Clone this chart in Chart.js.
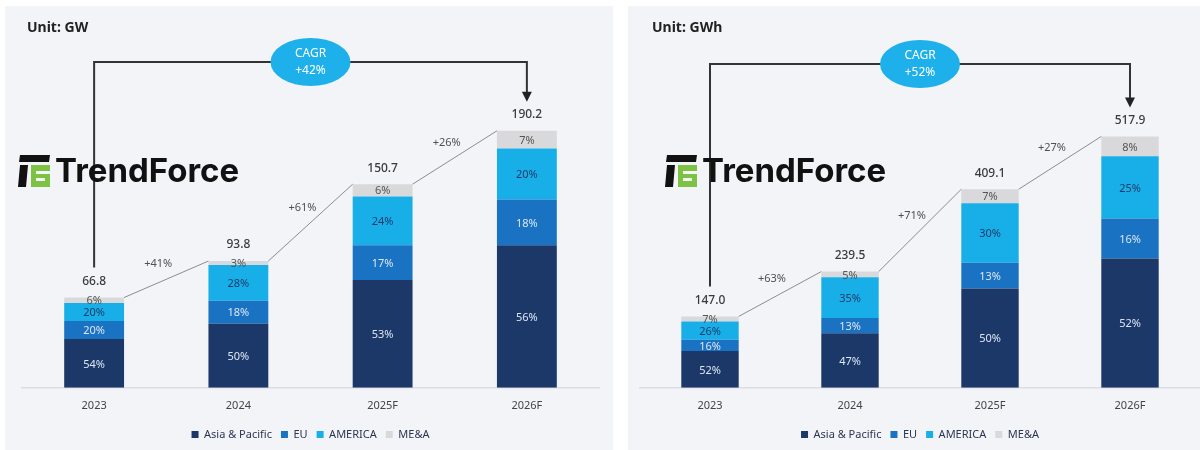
<!DOCTYPE html>
<html>
<head>
<meta charset="utf-8">
<script src="https://cdn.jsdelivr.net/npm/chart.js@4.4.0/dist/chart.umd.min.js"></script>
<style>
  body { margin: 0; background: #fff; width: 1200px; height: 450px; position: relative; overflow: hidden; }
  .panel { position: absolute; top: 6px; height: 444px; background: #f3f4f8; overflow: hidden; }
  #p1 { left: 5px; width: 608px; }
  #p2 { left: 628px; width: 572px; }
  canvas { display: block; }
</style>
</head>
<body>
<div class="panel" id="p1"><canvas id="gw" width="608" height="444"></canvas></div>
<div class="panel" id="p2"><canvas id="gwh" width="572" height="444"></canvas></div>
<script>
// data
const years = ['2023', '2024', '2025F', '2026F'];
const regions = ['Asia & Pacific', 'EU', 'AMERICA', 'ME&A'];

const gwTotal = [66.8, 93.8, 150.7, 190.2];
const gwAsia = [54, 50, 53, 56];
const gwEU = [20, 18, 17, 18];
const gwAmerica = [20, 28, 24, 20];
const gwMEA = [6, 3, 6, 7];
const gwGrowth = ['+41%', '+61%', '+26%'];
const gwCagr = '+42%';

const gwhTotal = [147.0, 239.5, 409.1, 517.9];
const gwhAsia = [52, 47, 50, 52];
const gwhEU = [16, 13, 13, 16];
const gwhAmerica = [26, 35, 30, 25];
const gwhMEA = [7, 5, 7, 8];
const gwhGrowth = ['+63%', '+71%', '+27%'];
const gwhCagr = '+52%';

const colors = ['#1b3868', '#1a73c2', '#18afe8', '#d9d9db'];
const labelColors = ['#dde6f3', '#dde6f3', '#1d3b6b', '#555555'];
const FONT = '"Noto Sans", "DejaVu Sans", sans-serif';

function drawLogo(ctx, x, y) {
  // small icon
  ctx.save();
  ctx.fillStyle = '#111';
  ctx.beginPath();
  ctx.moveTo(x + 2, y); ctx.lineTo(x + 32, y); ctx.lineTo(x + 31, y + 7); ctx.lineTo(x + 1, y + 7);
  ctx.fill();
  ctx.beginPath();
  ctx.moveTo(x + 2, y + 10); ctx.lineTo(x + 10, y + 10); ctx.lineTo(x + 8, y + 32); ctx.lineTo(x, y + 32);
  ctx.fill();
  ctx.fillStyle = '#7dc242';
  ctx.fillRect(x + 13, y + 10, 19, 22);
  ctx.fillStyle = '#f3f4f8';
  ctx.fillRect(x + 18, y + 16, 14, 3);
  ctx.fillRect(x + 18, y + 23, 9, 3);
  ctx.fillStyle = '#111';
  ctx.font = 'bold 33px Inter, "Open Sans", sans-serif';
  ctx.textBaseline = 'middle';
  ctx.textAlign = 'left';
  ctx.fillText('TrendForce', x + 37, y + 17, 186);
  ctx.restore();
}

const annotate = {
  id: 'annotate',
  afterDatasetsDraw(chart, args, o) {
    const ctx = chart.ctx;
    const ys = chart.scales.y;
    const metas = chart.data.datasets.map((d, i) => chart.getDatasetMeta(i));
    ctx.save();

    // share labels inside the segments
    ctx.font = '11px ' + FONT;
    ctx.textAlign = 'center';
    ctx.textBaseline = 'middle';
    metas.forEach((m, di) => {
      m.data.forEach((el, i) => {
        ctx.fillStyle = labelColors[di];
        ctx.fillText(o.shares[di][i] + '%', el.x, (el.y + el.base) / 2 + 1);
      });
    });

    // totals and growth lines
    const bars = metas[0].data;
    const tops = o.totals.map(t => ys.getPixelForValue(t));
    ctx.font = '500 12px ' + FONT;
    ctx.fillStyle = '#3a3a3a';
    bars.forEach((el, i) => ctx.fillText(o.totals[i].toFixed(1), el.x, tops[i] - 16));

    ctx.strokeStyle = '#8c8c8c';
    ctx.lineWidth = 1;
    ctx.font = '11px ' + FONT;
    ctx.fillStyle = '#505050';
    for (let i = 0; i < bars.length - 1; i++) {
      const x1 = bars[i].x + bars[i].width / 2, y1 = tops[i];
      const x2 = bars[i + 1].x - bars[i + 1].width / 2, y2 = tops[i + 1];
      ctx.beginPath(); ctx.moveTo(x1, y1); ctx.lineTo(x2, y2); ctx.stroke();
      ctx.fillText(o.growth[i], (x1 + x2) / 2 - 8, (y1 + y2) / 2 - 15);
    }

    // CAGR bracket
    const bx0 = bars[0].x, bx1 = bars[bars.length - 1].x, by = o.bracketY;
    const last = tops.length - 1;
    ctx.strokeStyle = '#333';
    ctx.lineWidth = 2;
    ctx.beginPath();
    ctx.moveTo(bx0, tops[0] - 30);
    ctx.lineTo(bx0, by);
    ctx.lineTo(bx1, by);
    ctx.lineTo(bx1, tops[last] - 38);
    ctx.stroke();
    ctx.fillStyle = '#222';
    ctx.beginPath();
    ctx.moveTo(bx1 - 5, tops[last] - 39);
    ctx.lineTo(bx1 + 5, tops[last] - 39);
    ctx.lineTo(bx1, tops[last] - 29);
    ctx.fill();

    const cx = (bx0 + bx1) / 2;
    ctx.fillStyle = '#1eb0ea';
    ctx.beginPath();
    ctx.ellipse(cx, by, 40, 24, 0, 0, Math.PI * 2);
    ctx.fill();
    ctx.fillStyle = '#ffffff';
    ctx.font = '12px ' + FONT;
    ctx.fillText('CAGR', cx, by - 8);
    ctx.fillText(o.cagr, cx, by + 9);

    // unit and logo
    ctx.fillStyle = '#222';
    ctx.font = 'bold 14px ' + FONT;
    ctx.textAlign = 'left';
    ctx.fillText(o.unit, o.unitX, 22);
    drawLogo(ctx, o.logoX, 149);
    ctx.restore();
  }
};

function buildChart(id, totals, shares, growth, cagr, unit, opts) {
  const datasets = regions.map((name, di) => ({
    label: name,
    data: totals.map((t, i) => {
      const sum = shares.reduce((a, s) => a + s[i], 0);
      return t * shares[di][i] / sum;
    }),
    backgroundColor: colors[di],
    borderWidth: 0,
    categoryPercentage: 1,
    barPercentage: opts.barPct
  }));

  return new Chart(document.getElementById(id), {
    type: 'bar',
    data: { labels: years, datasets: datasets },
    options: {
      responsive: false,
      animation: false,
      layout: { padding: { top: opts.top, left: opts.left, right: opts.right, bottom: 0 } },
      scales: {
        x: {
          stacked: true,
          grid: { display: false, drawTicks: false },
          border: { display: true, color: '#dcdde3', width: 1.5 },
          ticks: { color: '#444', font: { size: 11, family: FONT }, padding: 11 },
          afterFit(scale) { scale.height -= 3; }
        },
        y: { stacked: true, display: false, min: 0, max: opts.yMax }
      },
      plugins: {
        tooltip: { enabled: false },
        legend: {
          position: 'bottom',
          labels: { boxWidth: 7, boxHeight: 7, padding: 9, color: '#2b3650', font: { size: 11, family: FONT } }
        },
        annotate: {
          totals: totals, shares: shares, growth: growth, cagr: cagr, unit: unit,
          unitX: opts.unitX, logoX: opts.logoX, bracketY: opts.bracketY
        }
      }
    },
    plugins: [annotate]
  });
}

buildChart('gw', gwTotal, [gwAsia, gwEU, gwAmerica, gwMEA], gwGrowth, gwCagr, 'Unit: GW',
  { barPct: 0.415, top: 44, left: 17, right: 14, yMax: 250, unitX: 22, logoX: 13, bracketY: 56 });
buildChart('gwh', gwhTotal, [gwhAsia, gwhEU, gwhAmerica, gwhMEA], gwhGrowth, gwhCagr, 'Unit: GWh',
  { barPct: 0.41, top: 43, left: 12, right: 0, yMax: 698, unitX: 24, logoX: 37, bracketY: 58 });
</script>
</body>
</html>
